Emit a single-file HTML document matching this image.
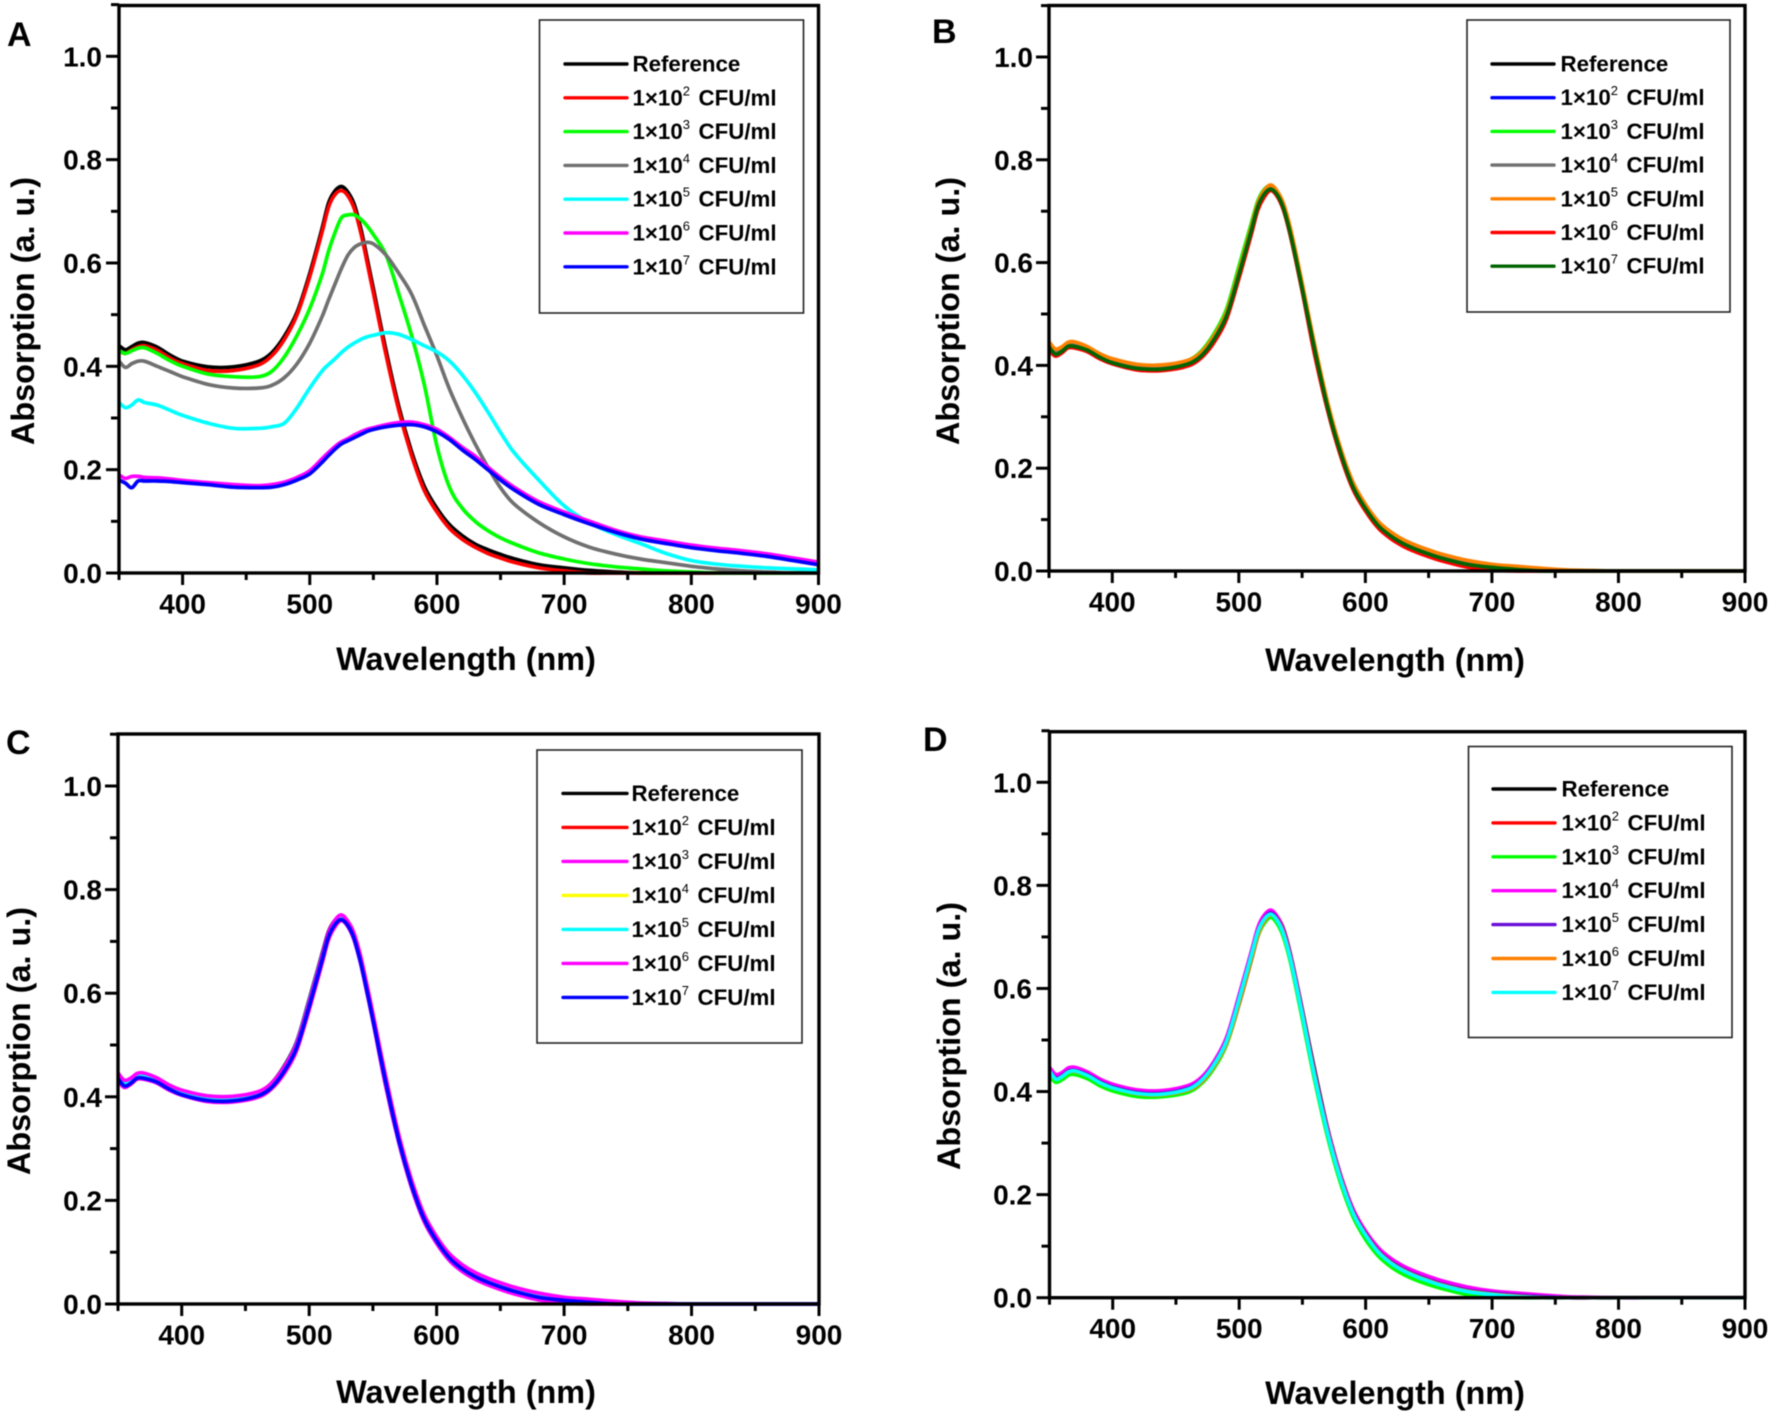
<!DOCTYPE html>
<html>
<head>
<meta charset="utf-8">
<title>Absorption spectra panels</title>
<style>
html,body{margin:0;padding:0;background:#fff;}
svg{display:block;filter:blur(0.5px);}
text{font-family:"Liberation Sans",sans-serif;font-weight:bold;fill:#000;}
</style>
</head>
<body>
<svg id="figure" xmlns="http://www.w3.org/2000/svg" width="1772" height="1413" viewBox="0 0 1772 1413"></svg>
<script>
const wavelengths = [350,355,360,365,370,380,390,400,420,440,460,470,480,490,500,510,515,520,525,530,535,540,545,550,560,570,580,590,600,610,620,630,640,650,660,680,700,720,740,760,780,800,820,840,860,880,900];
const xTicksMajor = [400,500,600,700,800,900];
const xTicksMinor = [350,450,550,650,750,850];
const yTicksMajor = [0,0.2,0.4,0.6,0.8,1.0];
const yTicksMinor = [0.1,0.3,0.5,0.7,0.9,1.1];
const legendLabels = ["Reference","2","3","4","5","6","7"];

const aRef = [.44,.432,.438,.445,.446,.437,.422,.41,.399,.399,.41,.426,.458,.505,.58,.67,.718,.74,.748,.737,.713,.668,.61,.55,.43,.322,.235,.168,.125,.093,.072,.056,.045,.036,.028,.016,.01,.005,.002,0,0,0,0,0,0,0,0];
const aE2 = [.43,.425,.432,.438,.44,.431,.416,.405,.392,.392,.403,.42,.452,.50,.574,.663,.71,.733,.74,.73,.705,.66,.602,.542,.422,.315,.228,.16,.118,.086,.065,.05,.038,.029,.021,.01,.004,0,0,0,0,0,0,0,0,0,0];
const aE3 = [.43,.425,.43,.435,.436,.425,.411,.40,.385,.38,.38,.39,.418,.46,.512,.58,.625,.66,.688,.693,.693,.685,.672,.655,.615,.54,.46,.365,.245,.165,.125,.10,.082,.068,.057,.039,.027,.018,.012,.008,.004,.002,0,0,0,0,0];
const aE4 = [.41,.398,.405,.41,.41,.40,.39,.38,.365,.358,.358,.363,.378,.405,.445,.498,.53,.56,.59,.615,.63,.637,.64,.637,.615,.58,.54,.48,.42,.355,.30,.25,.205,.165,.135,.098,.07,.05,.037,.027,.02,.013,.008,.004,.002,0,0];
const aE5 = [.33,.32,.325,.335,.33,.325,.315,.305,.29,.28,.28,.283,.29,.32,.358,.392,.404,.415,.427,.437,.445,.452,.457,.46,.465,.462,.452,.44,.428,.41,.383,.35,.312,.272,.235,.18,.13,.097,.075,.057,.038,.024,.017,.013,.01,.008,.006];
const aE6 = [.19,.183,.187,.187,.185,.184,.182,.179,.175,.171,.169,.171,.176,.185,.198,.222,.234,.245,.254,.26,.267,.273,.278,.281,.287,.291,.292,.287,.278,.262,.243,.226,.205,.185,.167,.138,.118,.10,.083,.07,.062,.054,.048,.043,.037,.029,.021];
const aE7 = [.18,.174,.165,.178,.178,.178,.177,.175,.171,.166,.165,.166,.171,.18,.192,.215,.228,.24,.25,.256,.262,.268,.274,.278,.283,.286,.287,.283,.273,.258,.238,.22,.2,.18,.162,.133,.113,.095,.079,.066,.057,.049,.043,.038,.032,.024,.016];

const bRef = [.44,.425,.43,.44,.44,.432,.418,.408,.397,.396,.406,.421,.452,.498,.58,.668,.712,.736,.745,.733,.708,.664,.609,.55,.43,.32,.233,.166,.123,.09,.069,.054,.043,.034,.026,.014,.008,.004,.001,0,0,0,0,0,0,0,0];
const bE2 = [.441,.426,.431,.44,.441,.432,.418,.408,.397,.397,.407,.422,.453,.499,.581,.669,.713,.737,.746,.734,.708,.664,.609,.55,.43,.32,.233,.166,.123,.09,.069,.054,.043,.034,.026,.014,.008,.004,.001,0,0,0,0,0,0,0,0];
const bE3 = [.442,.428,.432,.441,.442,.433,.419,.409,.398,.398,.41,.427,.46,.508,.592,.678,.72,.742,.749,.733,.706,.661,.606,.547,.424,.317,.23,.163,.12,.088,.067,.052,.041,.032,.024,.012,.006,.002,0,0,0,0,0,0,0,0,0];
const bE4 = [.44,.426,.43,.44,.44,.431,.418,.407,.396,.396,.406,.421,.452,.497,.579,.667,.712,.736,.745,.733,.707,.664,.609,.55,.43,.32,.232,.166,.122,.09,.069,.054,.043,.034,.026,.014,.008,.004,.001,0,0,0,0,0,0,0,0];
const bE5 = [.446,.432,.436,.445,.446,.437,.423,.413,.402,.401,.41,.425,.456,.502,.583,.671,.716,.74,.751,.74,.717,.675,.62,.561,.44,.33,.242,.174,.13,.097,.076,.061,.05,.041,.033,.021,.013,.009,.005,.002,.001,0,0,0,0,0,0];
const bE6 = [.43,.418,.424,.434,.434,.427,.413,.403,.391,.39,.399,.414,.443,.488,.568,.656,.702,.727,.74,.73,.704,.66,.604,.545,.42,.314,.227,.16,.117,.084,.063,.048,.037,.028,.02,.008,.002,0,0,0,0,0,0,0,0,0,0];
const bE7 = [.436,.422,.427,.437,.437,.43,.416,.405,.394,.393,.403,.418,.449,.495,.576,.664,.709,.733,.743,.733,.708,.664,.609,.55,.43,.32,.233,.165,.122,.089,.068,.053,.042,.033,.025,.013,.007,.003,0,0,0,0,0,0,0,0,0];

const cRef = [.44,.426,.43,.44,.441,.433,.419,.409,.398,.398,.409,.425,.458,.505,.588,.675,.718,.74,.748,.733,.706,.662,.607,.548,.425,.318,.231,.164,.121,.089,.068,.053,.042,.033,.025,.013,.007,.003,0,0,0,0,0,0,0,0,0];
const cE2 = [.438,.424,.429,.439,.439,.431,.417,.407,.396,.395,.405,.42,.451,.497,.58,.668,.712,.736,.745,.733,.708,.664,.609,.55,.428,.321,.234,.167,.124,.091,.07,.055,.044,.035,.027,.015,.008,.004,.001,0,0,0,0,0,0,0,0];
const cE3 = [.43,.418,.424,.434,.434,.427,.413,.403,.391,.39,.399,.414,.443,.488,.568,.656,.702,.727,.74,.73,.704,.66,.604,.545,.42,.314,.227,.16,.117,.084,.063,.048,.037,.028,.02,.008,.002,0,0,0,0,0,0,0,0,0,0];
const cE4 = [.44,.425,.43,.44,.44,.432,.418,.408,.397,.396,.406,.421,.452,.498,.58,.668,.712,.736,.745,.733,.708,.664,.609,.55,.43,.32,.233,.166,.123,.09,.069,.054,.043,.034,.026,.014,.008,.004,.001,0,0,0,0,0,0,0,0];
const cE5 = [.442,.428,.432,.441,.442,.434,.42,.41,.399,.398,.408,.424,.456,.503,.585,.672,.714,.738,.746,.734,.708,.664,.609,.55,.43,.32,.233,.166,.123,.09,.069,.054,.043,.034,.026,.014,.008,.004,.001,0,0,0,0,0,0,0,0];
const cE6 = [.446,.432,.436,.445,.446,.437,.423,.413,.402,.401,.41,.425,.456,.502,.583,.671,.716,.74,.751,.74,.717,.675,.62,.561,.44,.33,.242,.174,.13,.097,.076,.061,.05,.041,.033,.021,.013,.009,.005,.002,.001,0,0,0,0,0,0];
const cE7 = [.435,.421,.426,.436,.436,.429,.415,.404,.393,.392,.402,.417,.448,.494,.575,.663,.708,.732,.742,.732,.707,.663,.608,.549,.428,.319,.232,.165,.122,.089,.068,.053,.042,.033,.025,.013,.007,.003,0,0,0,0,0,0,0,0,0];

const dRef = [.44,.426,.43,.44,.441,.432,.418,.408,.397,.396,.405,.42,.45,.496,.576,.664,.708,.733,.745,.739,.716,.672,.617,.558,.438,.328,.24,.172,.128,.095,.074,.059,.048,.039,.031,.019,.012,.007,.003,.001,0,0,0,0,0,0,0];
const dE2 = [.434,.42,.425,.435,.435,.428,.414,.404,.393,.392,.401,.416,.446,.491,.57,.658,.703,.729,.741,.732,.707,.663,.608,.549,.428,.32,.233,.166,.123,.09,.069,.054,.043,.034,.026,.014,.008,.004,.001,0,0,0,0,0,0,0,0];
const dE3 = [.43,.418,.423,.432,.433,.425,.411,.401,.39,.39,.399,.415,.445,.491,.572,.66,.704,.727,.738,.726,.70,.656,.60,.54,.418,.311,.224,.157,.113,.081,.06,.045,.034,.025,.018,.006,.001,0,0,0,0,0,0,0,0,0,0];
const dE4 = [.447,.433,.437,.446,.447,.438,.424,.414,.403,.402,.412,.427,.458,.505,.588,.675,.72,.743,.752,.74,.714,.67,.615,.555,.433,.326,.239,.172,.129,.097,.076,.061,.05,.041,.033,.021,.013,.009,.005,.002,.001,0,0,0,0,0,0];
const dE5 = [.44,.426,.431,.44,.441,.433,.419,.409,.398,.397,.407,.422,.453,.499,.581,.669,.713,.737,.747,.735,.709,.665,.61,.551,.43,.321,.234,.167,.124,.091,.07,.055,.044,.035,.027,.015,.009,.005,.002,0,0,0,0,0,0,0,0];
const dE6 = [.438,.424,.429,.438,.439,.431,.417,.407,.395,.394,.403,.418,.449,.494,.574,.662,.706,.731,.743,.733,.708,.664,.609,.55,.428,.32,.233,.165,.122,.089,.068,.053,.042,.033,.025,.013,.007,.003,0,0,0,0,0,0,0,0,0];
const dE7 = [.44,.424,.429,.438,.44,.431,.417,.407,.396,.395,.405,.421,.452,.498,.58,.668,.712,.735,.744,.732,.706,.662,.607,.548,.425,.318,.231,.164,.121,.088,.067,.052,.041,.032,.024,.012,.006,.002,0,0,0,0,0,0,0,0,0];

const seriesA = [aRef,aE2,aE3,aE4,aE5,aE6,aE7];
const seriesB = [bRef,bE2,bE3,bE4,bE5,bE6,bE7];
const seriesC = [cRef,cE2,cE3,cE4,cE5,cE6,cE7];
const seriesD = [dRef,dE2,dE3,dE4,dE5,dE6,dE7];

const colorsA = ["#000000","#ff0000","#00ff00","#707070","#00ffff","#ff00ff","#0000ff"];
const colorsB = ["#000000","#0000ff","#00ff00","#707070","#ff8000","#ff0000","#006400"];
const colorsC = ["#000000","#ff0000","#ff00ff","#ffff00","#00ffff","#ff00ff","#0000ff"];
const colorsD = ["#000000","#ff0000","#00ff00","#ff00ff","#6a0fd8","#ff8000","#00ffff"];

const layouts = [
  {id:"a",letter:"A",lx:7,ly:46,left:119,right:818.5,top:5.5,one:56.3,zero:573,labelRight:102,titleX:466,titleY:670,yTitleX:34,yTitleY:311,box:[539.5,20,264,293],rowY:64,rowStep:33.8,lineX:[565,627],textX:632.5,series:seriesA,colors:colorsA},
  {id:"b",letter:"B",lx:932,ly:43,left:1049,right:1745,top:5.5,one:57,zero:571,labelRight:1033,titleX:1395,titleY:671,yTitleX:959,yTitleY:311,box:[1467,20,263,292],rowY:64,rowStep:33.7,lineX:[1492,1554],textX:1560.5,series:seriesB,colors:colorsB},
  {id:"c",letter:"C",lx:6,ly:754,left:118,right:819,top:734,one:786,zero:1304,labelRight:102,titleX:466,titleY:1403,yTitleX:30,yTitleY:1041,box:[537,750,265,293],rowY:793.4,rowStep:34,lineX:[563,627],textX:631.5,series:seriesC,colors:colorsC},
  {id:"d",letter:"D",lx:923,ly:751,left:1049.5,right:1745,top:731.7,one:782.3,zero:1297.7,labelRight:1032,titleX:1395,titleY:1404,yTitleX:960,yTitleY:1036,box:[1468.5,746.5,263.5,291],rowY:789,rowStep:33.9,lineX:[1493,1555],textX:1561.5,series:seriesD,colors:colorsD}
];

const svgNS = "http://www.w3.org/2000/svg";
const figure = document.getElementById("figure");

function make(parent, tag, attrs, content) {
  const node = document.createElementNS(svgNS, tag);
  for (const key in attrs) node.setAttribute(key, attrs[key]);
  if (content !== undefined) node.textContent = content;
  parent.appendChild(node);
  return node;
}
function xScale(p, w) { return p.left + (w - 350) / 550 * (p.right - p.left); }
function yScale(p, v) { return p.zero - v * (p.zero - p.one); }
function smoothPath(xs, ys) {
  const n = xs.length;
  const slope = xs.map(function (x, i) {
    const a = Math.max(i - 1, 0), b = Math.min(i + 1, n - 1);
    return (ys[b] - ys[a]) / (xs[b] - xs[a]);
  });
  let d = "M" + xs[0].toFixed(1) + " " + ys[0].toFixed(1);
  for (let i = 0; i < n - 1; i++) {
    const dx = (xs[i + 1] - xs[i]) / 3;
    d += "C" + (xs[i] + dx).toFixed(1) + " " + (ys[i] + slope[i] * dx).toFixed(1) + " " +
         (xs[i + 1] - dx).toFixed(1) + " " + (ys[i + 1] - slope[i + 1] * dx).toFixed(1) + " " +
         xs[i + 1].toFixed(1) + " " + ys[i + 1].toFixed(1);
  }
  return d;
}

layouts.forEach(function (p) {
  const panel = make(figure, "g", {});
  
  

  const letter = make(panel, "text", {x:p.lx, y:p.ly, "font-size":34}, p.letter);
  
  

  const curves = make(panel, "g", {});
  
  
  p.series.forEach(function (values, i) {
    const xs = wavelengths.map(function (w) { return xScale(p, w); });
    const ys = values.map(function (v) { return yScale(p, v); });
    const line = make(curves, "path", {d:smoothPath(xs, ys), fill:"none", stroke:p.colors[i], "stroke-width":3.7, "stroke-linejoin":"round"});
    
    
  });

  const frame = make(panel, "rect", {x:p.left, y:p.top, width:p.right-p.left, height:p.zero-p.top, fill:"none", stroke:"#000", "stroke-width":3.4});
  
  

  yTicksMajor.forEach(function (v) {
    const y = yScale(p, v);
    const tick = make(panel, "line", {x1:p.left-13, x2:p.left, y1:y, y2:y, stroke:"#000", "stroke-width":3});
    
    
    const label = make(panel, "text", {x:p.labelRight, y:y+10, "font-size":28, "text-anchor":"end"}, v.toFixed(1));
    
    
  });
  yTicksMinor.forEach(function (v) {
    const y = yScale(p, v);
    const tick = make(panel, "line", {x1:p.left-8, x2:p.left, y1:y, y2:y, stroke:"#000", "stroke-width":3});
    
    
  });
  xTicksMajor.forEach(function (w) {
    const x = xScale(p, w);
    const tick = make(panel, "line", {x1:x, x2:x, y1:p.zero, y2:p.zero+12, stroke:"#000", "stroke-width":3});
    
    
    const label = make(panel, "text", {x:x, y:p.zero+40.5, "font-size":28, "text-anchor":"middle"}, String(w));
    
    
  });
  xTicksMinor.forEach(function (w) {
    const x = xScale(p, w);
    const tick = make(panel, "line", {x1:x, x2:x, y1:p.zero, y2:p.zero+7, stroke:"#000", "stroke-width":3});
    
    
  });

  const xTitle = make(panel, "text", {x:p.titleX, y:p.titleY, "font-size":32.4, "text-anchor":"middle"}, "Wavelength (nm)");
  
  
  const yTitle = make(panel, "text", {x:0, y:0, "font-size":32.4, "text-anchor":"middle", transform:"translate(" + p.yTitleX + " " + p.yTitleY + ") rotate(-90)"}, "Absorption (a. u.)");
  
  

  const legend = make(panel, "g", {});
  
  
  const box = make(legend, "rect", {x:p.box[0], y:p.box[1], width:p.box[2], height:p.box[3], fill:"#fff", stroke:"#222", "stroke-width":1.6});
  
  
  legendLabels.forEach(function (name, i) {
    const y = p.rowY + i * p.rowStep;
    const swatch = make(legend, "line", {x1:p.lineX[0], x2:p.lineX[1], y1:y, y2:y, stroke:p.colors[i], "stroke-width":3.4, "stroke-linecap":"round"});
    
    
    const text = make(legend, "text", {x:p.textX, y:y+7.5, "font-size":22.3});
    
    
    if (i === 0) {
      text.textContent = name;
    } else {
      make(text, "tspan", {}, "1×10");
      make(text, "tspan", {dy:-10, "font-size":13, "font-weight":"normal"}, name);
      make(text, "tspan", {dy:10, x:p.textX + 66}, "CFU/ml");
    }
  });
});
</script>
</body>
</html>
